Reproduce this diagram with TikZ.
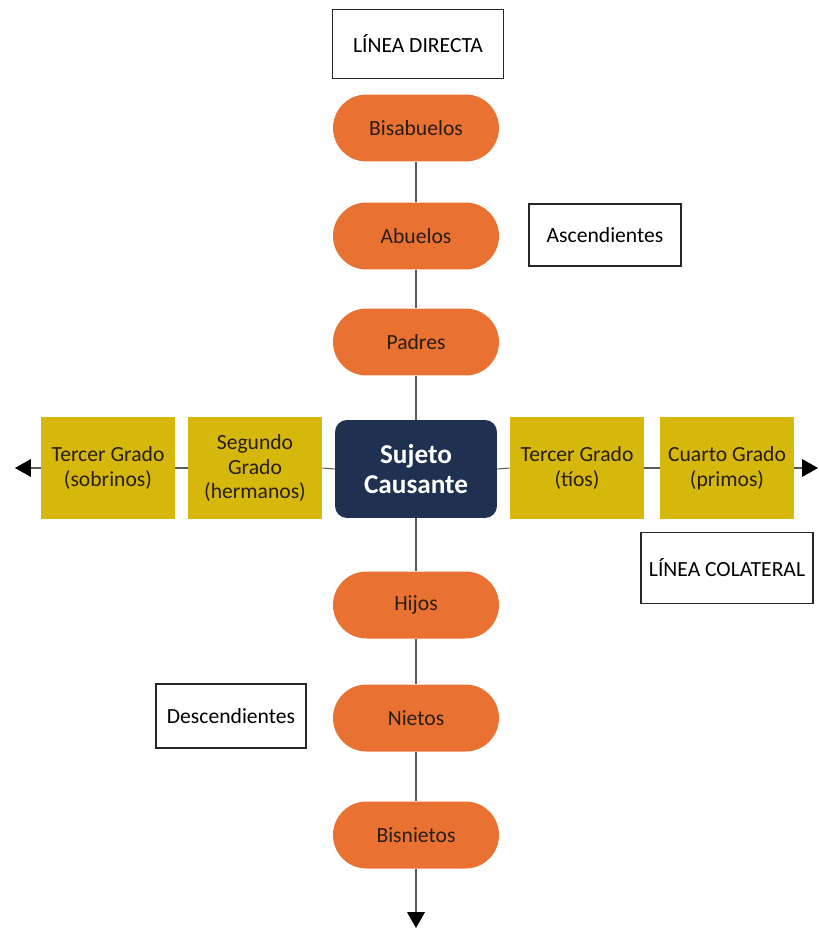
\documentclass[tikz,border=0pt]{standalone}
\usepackage{fontspec}
\setmainfont{Carlito}
\usetikzlibrary{arrows.meta}
\definecolor{pillorange}{RGB}{233,113,50}
\definecolor{gradeyellow}{RGB}{214,184,12}
\definecolor{subjectnavy}{RGB}{31,48,80}
\definecolor{linkgray}{RGB}{90,90,90}
\definecolor{inktext}{RGB}{40,30,20}
\tikzset{
  pill/.style={rectangle,rounded corners=0.67cm,fill=pillorange,minimum width=3.32cm,minimum height=1.34cm,
    text=inktext,font=\fontsize{12.3}{14}\selectfont},
  gradebox/.style={rectangle,fill=gradeyellow,minimum width=2.68cm,minimum height=2.06cm,
    align=center,text=inktext,font=\fontsize{12.3}{14.2}\selectfont},
  tagbox/.style={rectangle,draw=black!85,line width=1pt,fill=white,
    font=\fontsize{12.3}{14}\selectfont},
  link/.style={linkgray,line width=0.6pt},
  >={Triangle[length=9pt,width=10pt,color=black]}
}
\begin{document}
\begin{tikzpicture}[x=0.02cm,y=-0.02cm]
\useasboundingbox (0,0) rectangle (818,929);

%label boxes
\node[tagbox,minimum width=3.42cm,minimum height=1.38cm] (directa) at (418,44) {LÍNEA DIRECTA};
\node[tagbox,minimum width=3.04cm,minimum height=1.24cm] (asc) at (605,235) {Ascendientes};
\node[tagbox,minimum width=3.0cm,minimum height=1.28cm] (desc) at (231,716) {Descendientes};
\node[tagbox,minimum width=3.44cm,minimum height=1.42cm] (colateral) at (727,568) {LÍNEA COLATERAL};

%center node
\node[rectangle,rounded corners=0.24cm,fill=subjectnavy,minimum width=3.24cm,minimum height=1.96cm,
  align=center,text=white,font=\fontsize{15.5}{17.5}\selectfont\bfseries] (sujeto) at (416,469) {Sujeto\\Causante};

%draw direct line nodes
\foreach \name/\y/\txt in {bis/128/Bisabuelos,abu/236/Abuelos,pad/342/Padres,
                           hij/605/Hijos,nie/718/Nietos,bisn/835/Bisnietos}
	{
	\node[pill] (\name) at (416,\y) {\txt};
	}

%draw collateral nodes
\node[gradebox] (sob) at (108,468) {Tercer Grado\\(sobrinos)};
\node[gradebox] (her) at (255,468) {Segundo\\Grado\\(hermanos)};
\node[gradebox] (tio) at (577,468) {Tercer Grado\\(tíos)};
\node[gradebox] (pri) at (727,468) {Cuarto Grado\\(primos)};

\coordinate (downend) at (416,928);
\coordinate (leftend) at (15,468);
\coordinate (rightend) at (818,468);

%draw vertical links
\draw[link] (bis) -- (abu);
\draw[link] (abu) -- (pad);
\draw[link] (pad) -- (sujeto);
\draw[link] (sujeto) -- (hij);
\draw[link] (hij) -- (nie);
\draw[link] (nie) -- (bisn);
\draw[link,->] (bisn) -- (downend);

%draw horizontal links
\draw[link] (sujeto.west) -- (her.east);
\draw[link] (her.west) -- (sob.east);
\draw[link,->] (sob.west) -- (leftend);
\draw[link] (sujeto.east) -- (tio.west);
\draw[link] (tio.east) -- (pri.west);
\draw[link,->] (pri.east) -- (rightend);

\end{tikzpicture}
\end{document}
